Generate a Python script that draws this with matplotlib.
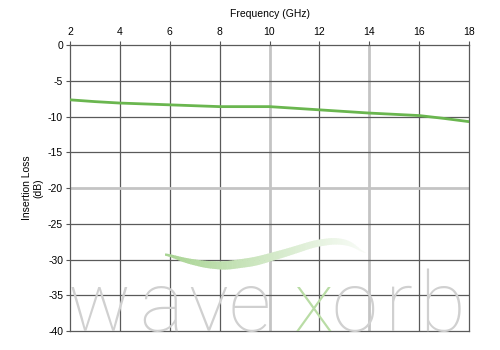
import numpy as np
import matplotlib.pyplot as plt
from matplotlib.patches import Polygon

# insertion loss curve
freq_ghz = [2, 3, 4, 6, 8, 9, 10, 12, 14, 16, 17, 18]
loss_db = [-7.65, -7.9, -8.1, -8.35, -8.6, -8.6, -8.6, -9.05, -9.5, -9.85, -10.25, -10.7]

x_ticks = [2, 4, 6, 8, 10, 12, 14, 16, 18]
y_ticks = [0, -5, -10, -15, -20, -25, -30, -35, -40]
light_x = [10, 14]
light_y = [-20]

plt.rcParams['font.family'] = ['Liberation Sans', 'DejaVu Sans']
plt.rcParams['axes.unicode_minus'] = False

fig = plt.figure(figsize=(5, 3.5), dpi=100)
ax = fig.add_axes([0.14, 0.054, 0.798, 0.817])


def px(x, y):
    return (x / 500, 1 - y / 350)


# watermark swoosh (smooth band, fading to the right)
xs = np.linspace(165, 365, 120)
u = (xs - 165) / 200
ctrl_u = [0, 0.1, 0.2, 0.3, 0.45, 0.6, 0.75, 0.85, 0.93, 1.0]
ctrl_top = [253, 258, 261, 261.5, 257, 249, 240, 237.5, 241, 254]
ctrl_bot = [255, 263, 268, 270, 266, 257, 247, 244, 246, 254]
top = np.interp(u, ctrl_u, ctrl_top)
bot = np.interp(u, ctrl_u, ctrl_bot)
k = np.ones(9) / 9
top = np.convolve(np.pad(top, 4, mode='edge'), k, mode='valid')
bot = np.convolve(np.pad(bot, 4, mode='edge'), k, mode='valid')
c0 = np.array([0.64, 0.82, 0.55])
for i in range(len(xs) - 1):
    t = i / (len(xs) - 2)
    a = 0.95 - 0.88 * t
    col = 1 - (1 - c0) * a
    pts = [px(xs[i], top[i]), px(xs[i + 1] + 0.6, top[i + 1]),
           px(xs[i + 1] + 0.6, bot[i + 1]), px(xs[i], bot[i])]
    fig.patches.append(Polygon(pts, closed=True, transform=fig.transFigure,
                               facecolor=col, edgecolor='none', zorder=0))

# watermark word, letter by letter
wm = dict(fontsize=60, family=['Roboto', 'DejaVu Sans'], fontweight='light',
          va='baseline', ha='center', zorder=0)
letters = [('w', 99), ('a', 161), ('v', 208), ('e', 250),
           ('x', 314), ('o', 354), ('r', 399), ('b', 442)]
for ch, cx in letters:
    fig.text(*px(cx, 331), ch, color='#b9dca5' if ch == 'x' else '#d0d0d0', **wm)

ax.patch.set_alpha(0)
ax.set_xlim(2, 18)
ax.set_ylim(-40, 0)
ax.set_xticks(x_ticks)
ax.set_yticks(y_ticks)
ax.xaxis.tick_top()
ax.xaxis.set_label_position('top')
ax.tick_params(axis='both', labelsize=7.5, length=3, width=0.8,
               color='#555555')
ax.tick_params(axis='x', pad=3)
ax.tick_params(axis='y', pad=2)

for xv in x_ticks[1:-1]:
    if xv in light_x:
        ax.axvline(xv, color='#c4c4c4', lw=2, zorder=1)
    else:
        ax.axvline(xv, color='#5a5a5a', lw=0.9, zorder=1)
for yv in y_ticks[1:-1]:
    if yv in light_y:
        ax.axhline(yv, color='#c4c4c4', lw=2, zorder=1)
    else:
        ax.axhline(yv, color='#5a5a5a', lw=0.9, zorder=1)
for s in ax.spines.values():
    s.set_color('#5a5a5a')
    s.set_linewidth(0.9)

ax.plot(freq_ghz, loss_db, color='#6ab64f', lw=2, zorder=3)

ax.set_xlabel('Frequency (GHz)', fontsize=7.5, labelpad=7)
ax.set_ylabel('Insertion Loss\n(dB)', fontsize=7.5, labelpad=3)

fig.savefig('out.png', dpi=100)
